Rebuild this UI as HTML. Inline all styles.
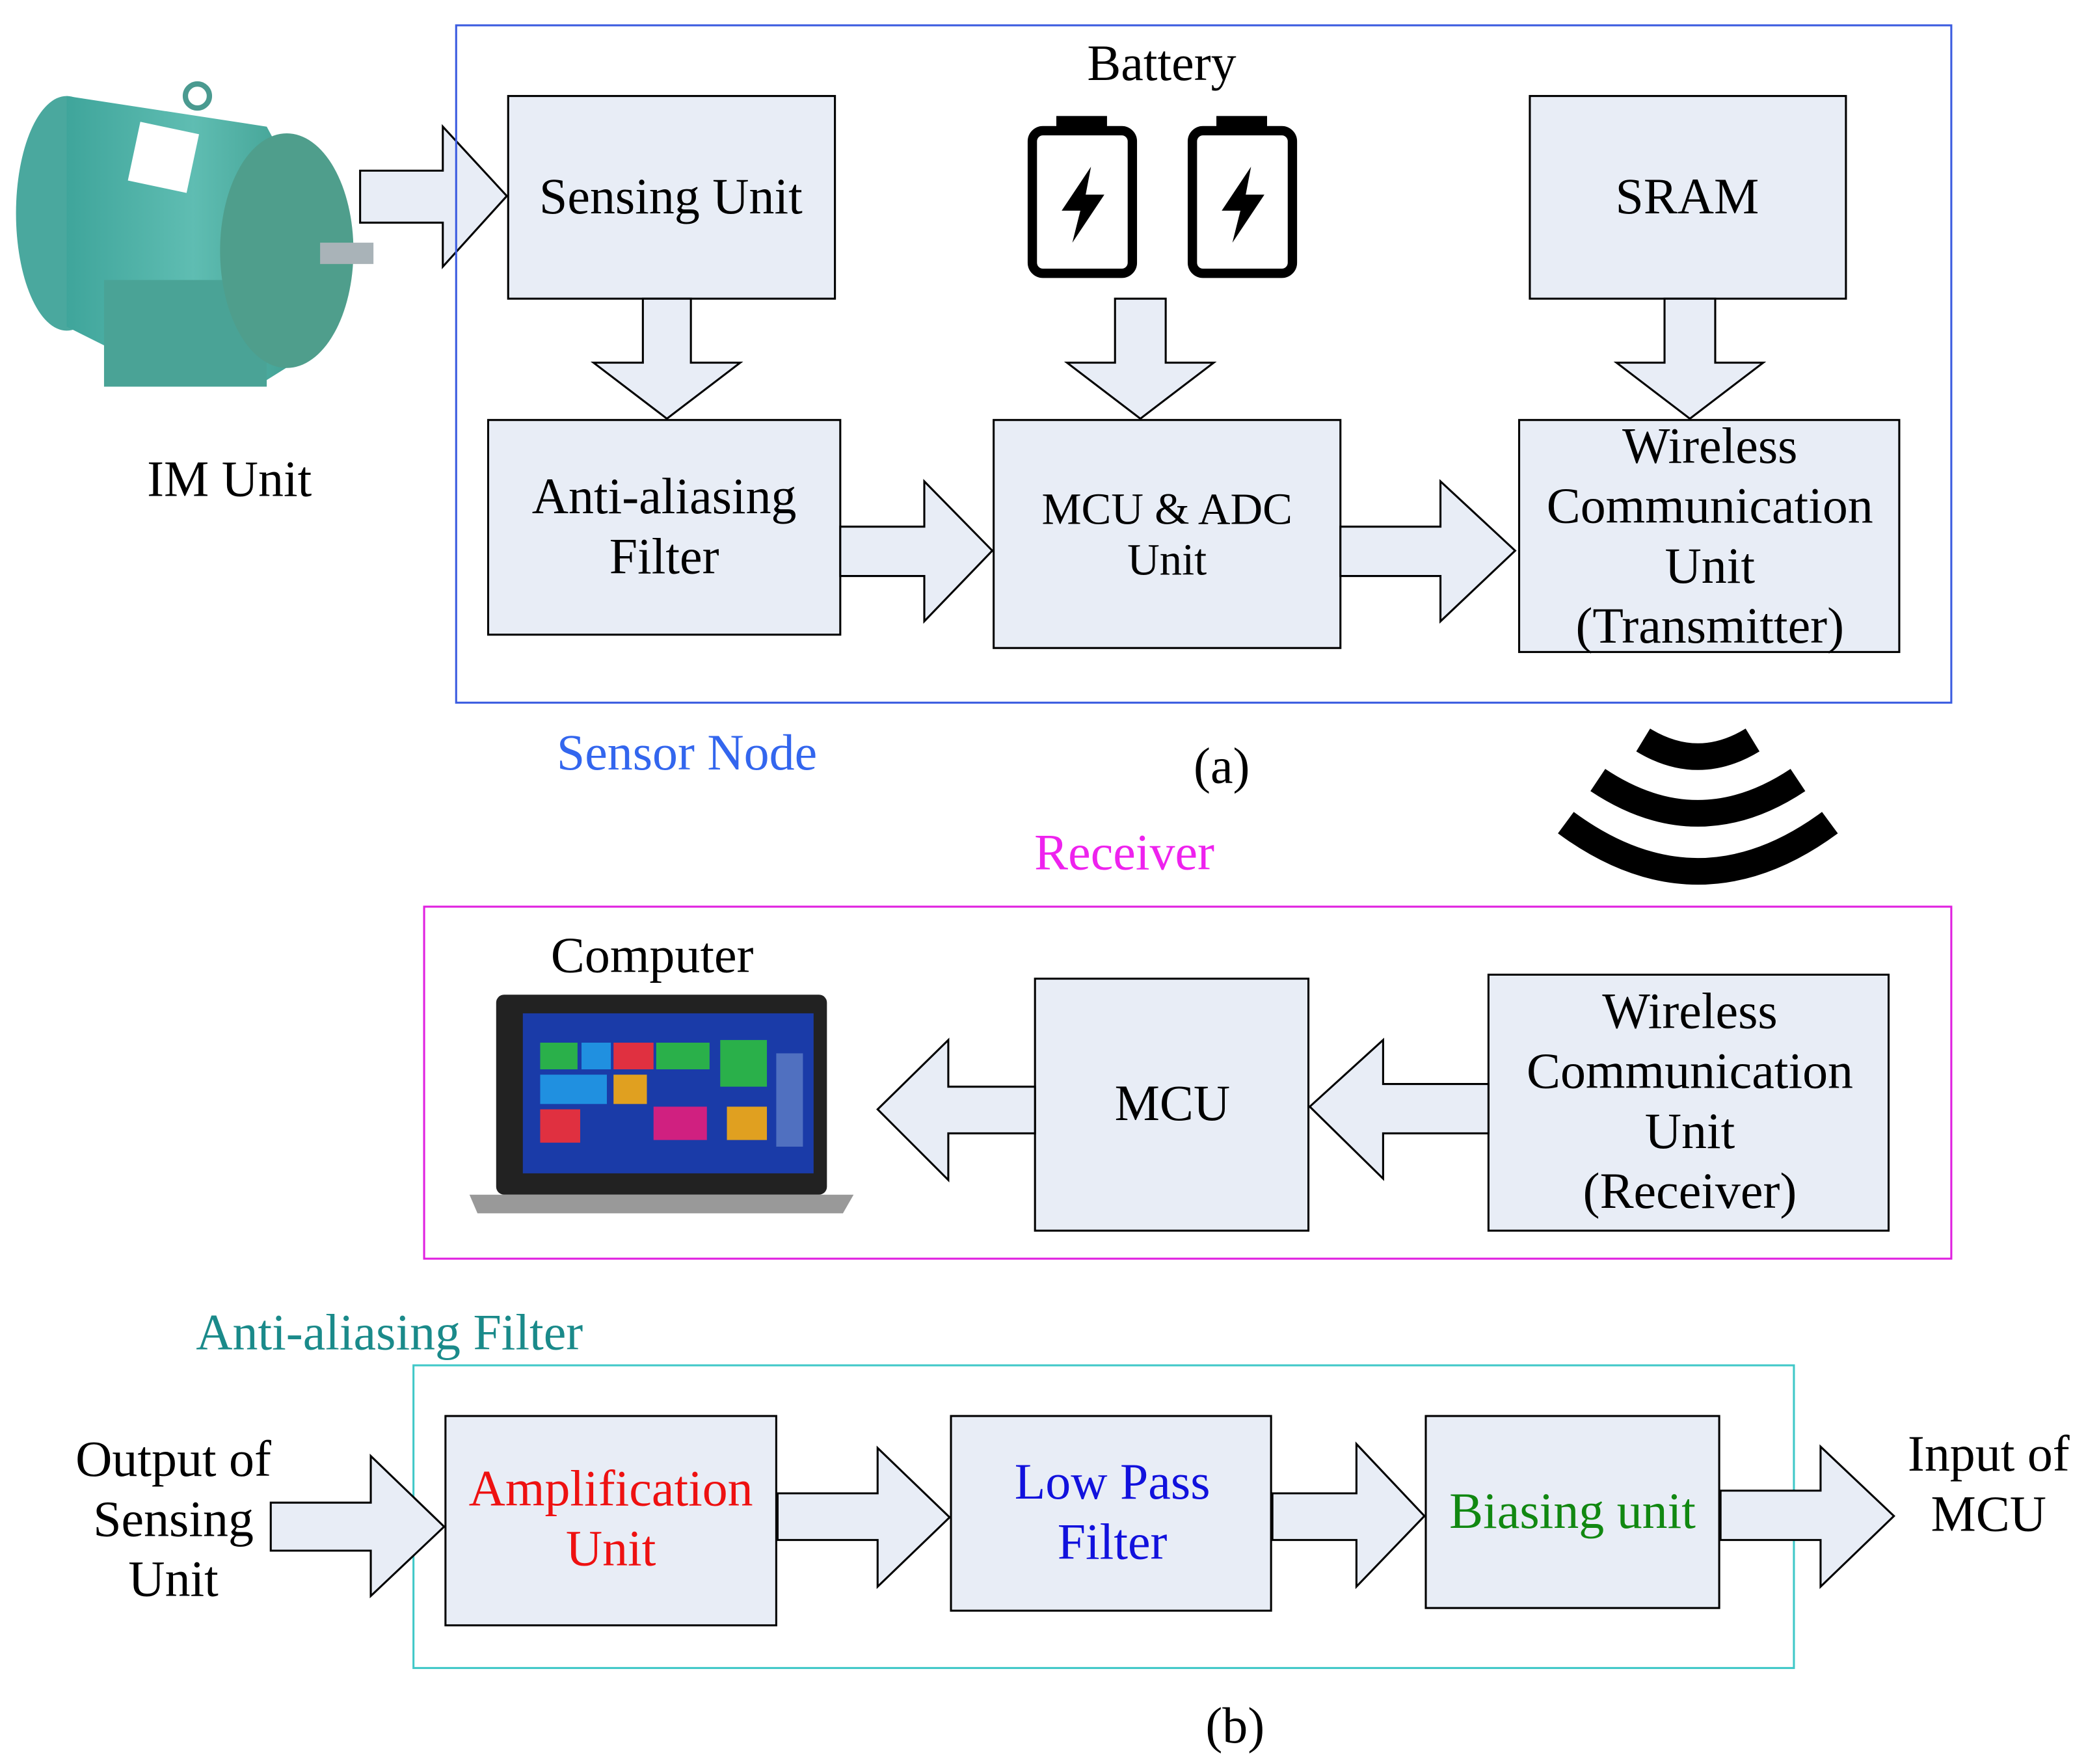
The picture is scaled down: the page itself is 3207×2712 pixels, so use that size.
<!DOCTYPE html>
<html><head><style>html,body{margin:0;padding:0;background:#fff}svg{display:block}
text{font-family:"Liberation Serif",serif}</style></head><body>
<svg width="3207" height="2712" viewBox="0 0 1564 1323" preserveAspectRatio="none" xmlns="http://www.w3.org/2000/svg">
<defs><linearGradient id="m" x1="0" x2="1"><stop offset="0" stop-color="#3fa59b"/><stop offset="0.5" stop-color="#5fbdb2"/><stop offset="1" stop-color="#3a9a8c"/></linearGradient></defs>
<g fill="#e8edf6" stroke="#000" stroke-width="1.5">
<g stroke="none">
<ellipse cx="50" cy="160" rx="38" ry="88" fill="#4aa89e"/>
<polygon points="50,72 200,95 240,170 240,260 200,285 90,265 50,245" fill="url(#m)"/>
<rect x="78" y="210" width="122" height="80" fill="#4aa396"/>
<ellipse cx="215" cy="188" rx="50" ry="88" fill="#4f9e8c"/>
<rect x="240" y="182" width="40" height="16" fill="#a9b3b8"/>
<circle cx="148" cy="72" r="9" fill="none" stroke="#4a9a90" stroke-width="4"/>
<rect x="100" y="95" width="45" height="45" fill="#fff" transform="rotate(12 120 118)"/>
</g>
<path d="M270,128 H332 V95 L380,147 L332,200 V167 H270 Z"/>
<rect x="342" y="19" width="1121" height="508" fill="none" stroke="#3b5ce0"/>
<rect x="381" y="72" width="245" height="152"/>
<rect x="366" y="315" width="264" height="161"/>
<rect x="745" y="315" width="260" height="171"/>
<rect x="1147" y="72" width="237" height="152"/>
<rect x="1139" y="315" width="285" height="174"/>
<path d="M482,224 H518 V272 H555 L500,314 L445,272 H482 Z"/>
<path d="M836,224 H874 V272 H910 L855,314 L800,272 H836 Z"/>
<path d="M1248,224 H1286 V272 H1322 L1267,314 L1212,272 H1248 Z"/>
<path d="M630,395 H693 V361 L744,413 L693,466 V432 H630 Z"/>
<path d="M1005,395 H1080 V361 L1136,413 L1080,466 V432 H1005 Z"/>
<rect x="318" y="680" width="1145" height="264" fill="none" stroke="#e020e0"/>
<rect x="776" y="734" width="205" height="189"/>
<rect x="1116" y="731" width="300" height="192"/>
<path d="M776,815 H711 V780 L658,832 L711,885 V850 H776 Z"/>
<path d="M1116,813 H1037 V780 L982,830 L1037,884 V850 H1116 Z"/>
<rect x="310" y="1024" width="1035" height="227" fill="none" stroke="#40c8c8"/>
<rect x="334" y="1062" width="248" height="157"/>
<rect x="713" y="1062" width="240" height="146"/>
<rect x="1069" y="1062" width="220" height="144"/>
<path d="M203,1127 H278 V1092 L333,1145 L278,1197 V1163 H203 Z"/>
<path d="M583,1120 H658 V1086 L712,1138 L658,1190 V1155 H583 Z"/>
<path d="M954,1120 H1017 V1083 L1068,1137 L1017,1190 V1155 H954 Z"/>
<path d="M1290,1118 H1365 V1085 L1420,1137 L1365,1190 V1155 H1290 Z"/>
</g>
<g fill="none" stroke="#000" stroke-width="7">
<rect x="774" y="98" width="75" height="107" rx="8"/>
<rect x="894" y="98" width="75" height="107" rx="8"/>
</g>
<rect x="792" y="87" width="38" height="12" fill="#000"/>
<rect x="912" y="87" width="38" height="12" fill="#000"/>
<path d="M818,125 L796,158 H810 L804,182 L828,146 H814 Z" fill="#000"/>
<path d="M938,125 L916,158 H930 L924,182 L948,146 H934 Z" fill="#000"/>
<g fill="none" stroke="#000">
<path d="M1174,617 Q1273,690 1372,617" stroke-width="20"/>
<path d="M1198,585 Q1273,635 1348,585" stroke-width="20"/>
<path d="M1232,555 Q1273,580 1314,555" stroke-width="20"/>
</g>
<rect x="372" y="746" width="248" height="150" rx="6" fill="#222"/>
<rect x="392" y="760" width="218" height="120" fill="#1a3ba8"/>
<g><rect x="405" y="782" width="28" height="20" fill="#2ab04a"/><rect x="436" y="782" width="22" height="20" fill="#2090e0"/><rect x="460" y="782" width="30" height="20" fill="#e03040"/><rect x="492" y="782" width="40" height="20" fill="#2ab04a"/><rect x="540" y="780" width="35" height="35" fill="#2ab04a"/><rect x="405" y="806" width="50" height="22" fill="#2090e0"/><rect x="460" y="806" width="25" height="22" fill="#e0a020"/><rect x="490" y="830" width="40" height="25" fill="#d02080"/><rect x="405" y="832" width="30" height="25" fill="#e03040"/><rect x="545" y="830" width="30" height="25" fill="#e0a020"/><rect x="582" y="790" width="20" height="70" fill="#5070c0"/></g>
<polygon points="352,896 640,896 632,910 358,910" fill="#999"/>
<g font-size="38" text-anchor="middle" fill="#000">
<text x="871" y="60">Battery</text>
<text x="503" y="160">Sensing Unit</text>
<text x="1265" y="160">SRAM</text>
<text x="498" y="385">Anti-aliasing</text>
<text x="498" y="430">Filter</text>
<text x="875" y="393" font-size="33.5">MCU &amp; ADC</text>
<text x="875" y="431" font-size="33.5">Unit</text>
<text x="1282" y="347">Wireless</text>
<text x="1282" y="392">Communication</text>
<text x="1282" y="437">Unit</text>
<text x="1282" y="482">(Transmitter)</text>
<text x="172" y="372">IM Unit</text>
<text x="515" y="577" fill="#3366ee">Sensor Node</text>
<text x="916" y="587">(a)</text>
<text x="843" y="652" fill="#ee22ee">Receiver</text>
<text x="489" y="729">Computer</text>
<text x="879" y="840">MCU</text>
<text x="1267" y="771">Wireless</text>
<text x="1267" y="816">Communication</text>
<text x="1267" y="861">Unit</text>
<text x="1267" y="906">(Receiver)</text>
<text x="292" y="1012" fill="#1a8a8a">Anti-aliasing Filter</text>
<text x="130" y="1107">Output of</text>
<text x="130" y="1152">Sensing</text>
<text x="130" y="1197">Unit</text>
<text x="458" y="1129" fill="#ee1111">Amplification</text>
<text x="458" y="1174" fill="#ee1111">Unit</text>
<text x="834" y="1124" fill="#1111dd">Low Pass</text>
<text x="834" y="1169" fill="#1111dd">Filter</text>
<text x="1179" y="1146" fill="#118811">Biasing unit</text>
<text x="1491" y="1103">Input of</text>
<text x="1491" y="1148">MCU</text>
<text x="926" y="1307">(b)</text>
</g>
</svg>
</body></html>
